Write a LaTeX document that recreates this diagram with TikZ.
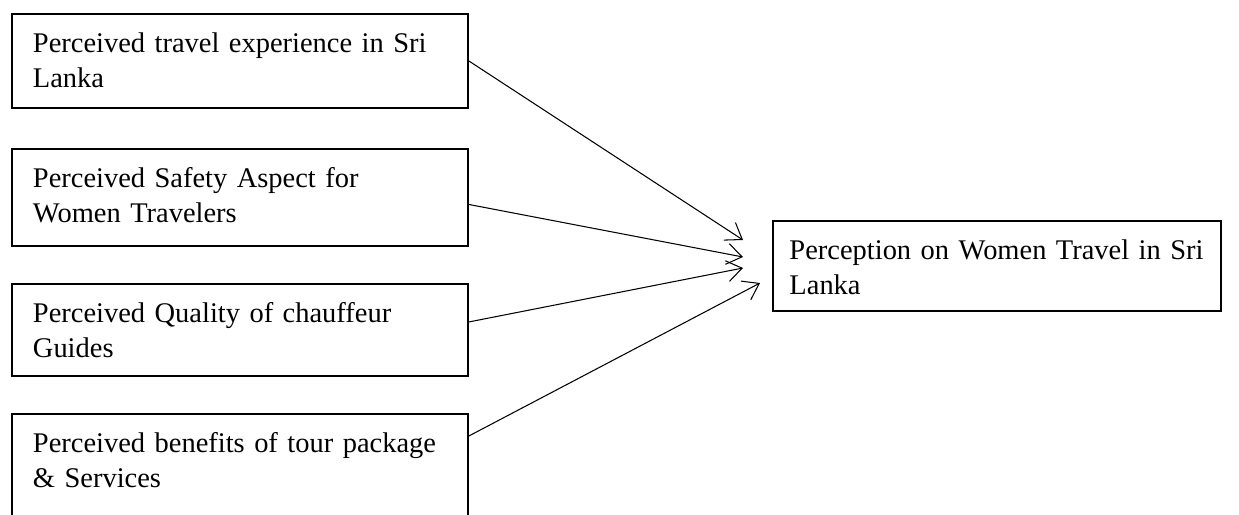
\documentclass[tikz,border=0pt]{standalone}
\usepackage{fontspec}
\setmainfont{Liberation Serif}
\usetikzlibrary{arrows.meta}

\begin{document}
\begin{tikzpicture}[
    x = 0.02cm, y = -0.02cm,
    every node/.style = {font = \fontsize{16.2}{19.9}\selectfont},
    factor/.style = {draw, line width = 1.1pt, anchor = north west, align = left,
        text width = 8.28cm, inner xsep = 0.42cm, inner ysep = 0pt,
        text height = 0.78cm, text depth = 1.1cm},
    outcome/.style = {factor, text width = 8.3cm, inner xsep = 0.33cm, text depth = 1.02cm},
    link/.style = {line width = 0.6pt, -{Straight Barb[length = 0.3cm, width = 0.42cm]}}]

\useasboundingbox (0,0) rectangle (1239,514);

\node[factor] (travel) at (11,13) {Perceived travel experience in Sri\\Lanka};
\node[factor, text depth = 1.16cm] (safety) at (11,148) {Perceived Safety Aspect for\\Women Travelers};
\node[factor, text depth = 1.06cm] (guides) at (11,283) {Perceived Quality of chauffeur\\Guides};
\node[factor, text depth = 2.5cm] (package) at (11,413) {Perceived benefits of tour package\\\& Services};
\node[outcome] (perception) at (772,220) {Perception on Women Travel in Sri\\Lanka};

\coordinate (t1) at (743,240);
\coordinate (t2) at (743,257);
\coordinate (t3) at (743,268);
\coordinate (t4) at (760,283);

\draw[link] (travel.east) -- (t1);
\draw[link] ([yshift = -0.14cm]safety.east) -- (t2);
\draw[link] ([yshift = 0.16cm]guides.east) -- (t3);
\draw[link] ([yshift = -0.46cm]package.north east) -- (t4);
\end{tikzpicture}
\end{document}
